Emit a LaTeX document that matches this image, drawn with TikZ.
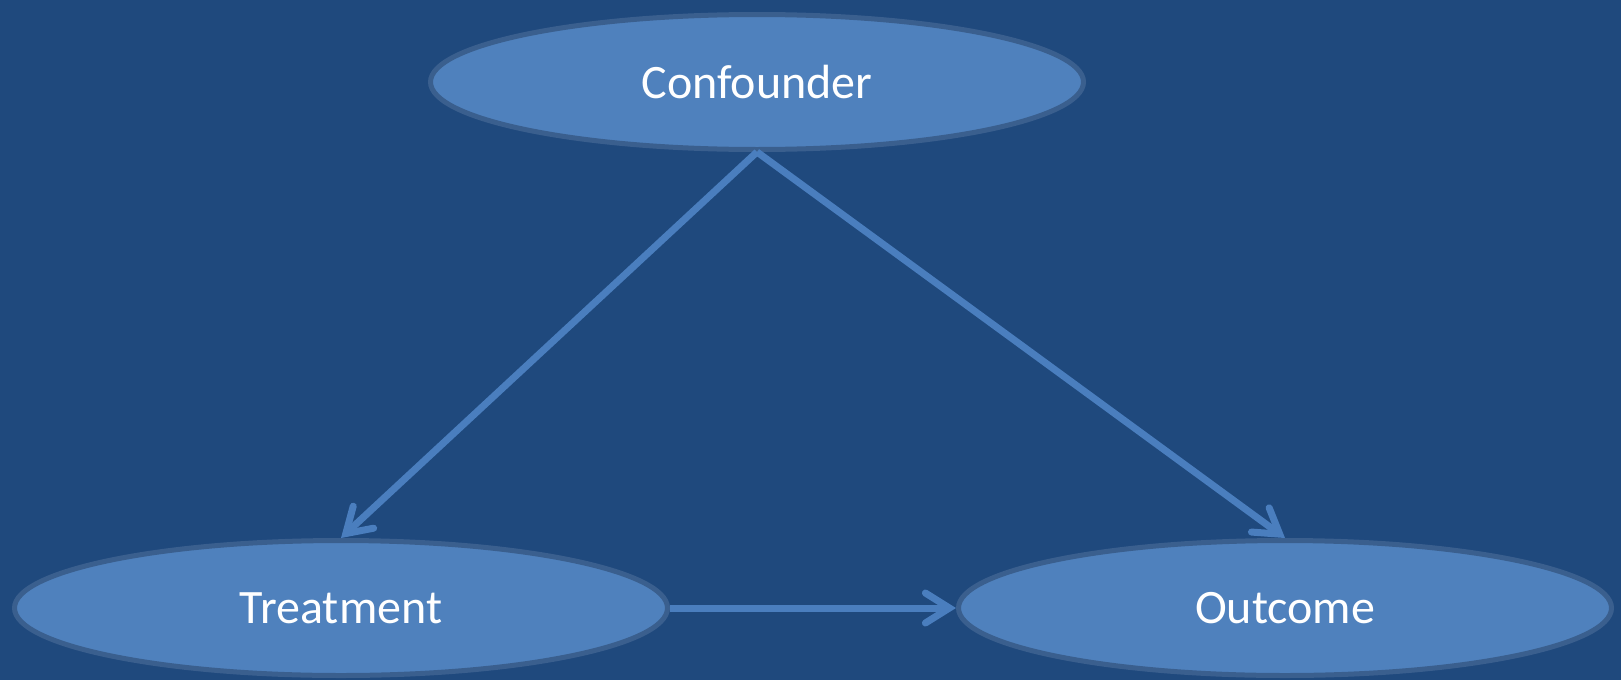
\documentclass[tikz,border=0pt]{standalone}
\usepackage{fontspec}
\setmainfont{Carlito}
\usetikzlibrary{shapes.geometric,arrows.meta}
\definecolor{bgblue}{HTML}{1F497D}
\definecolor{nodefill}{HTML}{4F81BD}
\definecolor{nodeline}{HTML}{3A5F8E}
\definecolor{linkblue}{HTML}{4A7EBE}
\tikzset{
  var/.style={ellipse, draw=nodeline, line width=2.5pt, fill=nodefill,
    minimum width=326.5pt, minimum height=67.5pt, inner sep=0pt,
    text=white, font=\fontsize{24pt}{28pt}\selectfont},
  link/.style={draw=linkblue, line width=3.5pt,
    -{Straight Barb[length=12pt, width=15pt, line cap=round]}}
}
\begin{document}
\begin{tikzpicture}[x=0.5pt, y=-0.5pt]
  % canvas
  \fill[bgblue] (0,0) rectangle (1621,680);
  \useasboundingbox (0,0) rectangle (1621,680);
  % variables
  \node[var] (conf) at (757,82) {Confounder};
  \node[var] (treat) at (341,608) {Treatment};
  \node[var] (out) at (1285,608) {Outcome};
  % causal links
  \draw[link] (conf.south) -- (treat.north);
  \draw[link] (conf.south) -- (out.north);
  \draw[link] (treat.east) -- (out.west);
\end{tikzpicture}
\end{document}
